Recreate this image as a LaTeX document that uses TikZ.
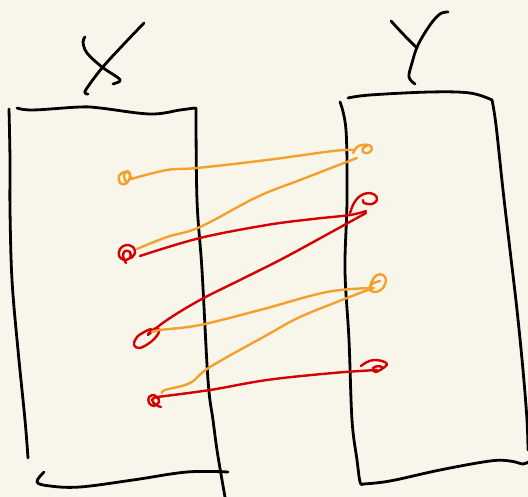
\documentclass[tikz,border=0pt]{standalone}
\begin{document}
\begin{tikzpicture}[x=1pt,y=-1pt,
  ink/.style={line width=2.8pt,line cap=round,line join=round,black},
  ora/.style={line width=2.4pt,line cap=round,line join=round,draw=sketchorange},
  rd/.style={line width=2.4pt,line cap=round,line join=round,draw=sketchred},
  sm/.style={smooth,tension=0.6}]
\definecolor{paper}{HTML}{F8F6EB}
\definecolor{sketchorange}{HTML}{F5A02C}
\definecolor{sketchred}{HTML}{D50000}
\fill[paper] (0,0) rectangle (528,497);
\useasboundingbox (0,0) rectangle (528,497);

% letter X
\draw[ink] plot[sm] coordinates {(85,37) (83,42) (87,53) (102,67) (117,77) (120,81) (113,84)};
\draw[ink] plot[sm] coordinates {(144,23) (123,45) (102,68) (87,88) (85,93) (88,94)};
% letter Y
\draw[ink] plot[sm] coordinates {(391,21) (404,35) (417,48)};
\draw[ink] plot[sm] coordinates {(448,12) (440,14) (430,25) (418,45) (412,63) (409,77) (415,84)};

% set X
\draw[ink] plot[sm] coordinates {(17,108) (33,110) (80,107) (100,108) (150,114) (180,110) (195,108)};
\draw[ink] plot[sm] coordinates {(9,109) (10,160) (10,210) (12,280) (18,350) (25,420) (28,458)};
\draw[ink] plot[sm] coordinates {(196,108) (197,200) (202,270) (208,380) (213,420) (217,450) (222,480) (225,497)};
\draw[ink] plot[sm] coordinates {(44,472) (37,482) (50,486) (80,487) (133,480) (187,472) (228,472)};

% set Y
\draw[ink] plot[sm] coordinates {(348,98) (370,95) (430,92) (470,93) (492,100)};
\draw[ink] plot[sm] coordinates {(340,102) (346,130) (347,200) (345,270) (349,340) (352,420) (357,460) (360,482) (363,484)};
\draw[ink] plot[sm] coordinates {(363,484) (390,481) (440,470) (490,461) (510,461) (523,464) (528,462)};
\draw[ink] plot[sm] coordinates {(492,100) (496,125) (503,190) (510,250) (517,310) (523,370) (527,420) (528,450)};

% endpoints in X
\draw[ora] plot[sm] coordinates {(131,178) (129,173) (124,172) (119,176) (120,183) (125,184) (129,180) (130,174) (127,171) (124,175) (126,182)};
\draw[rd] plot[sm] coordinates {(131,258) (135,253) (133,247) (126,245) (120,249) (119,256) (124,260) (130,258) (130,252) (125,251) (123,256) (126,263)};
\draw[rd] plot[sm] coordinates {(148,334) (156,328) (159,332) (152,341) (140,348) (134,345) (137,337) (146,331) (151,329)};
\draw[rd] plot[sm] coordinates {(157,398) (154,395) (149,397) (149,403) (154,406) (159,402) (157,397) (152,400) (156,405) (161,407)};
% endpoints in Y
\draw[ora] plot[sm] coordinates {(353,153) (357,147) (362,145) (369,145) (372,149) (368,153) (363,152) (363,148) (367,146)};
\draw[rd] plot[sm] coordinates {(350,213) (354,203) (360,196) (368,193) (375,195) (377,200) (372,204) (364,203) (363,200)};
\draw[ora] plot[sm] coordinates {(369,290) (372,281) (377,275) (383,275) (386,280) (383,288) (376,292) (370,290) (372,284) (380,281)};
\draw[rd] plot[sm] coordinates {(361,366) (367,362) (374,360) (382,361) (387,364) (382,369) (375,372) (373,368) (379,366) (383,368)};

% arrows of the relation
\draw[ora] plot[sm] coordinates {(131,179) (167,170) (197,168) (267,160) (333,151) (353,150)};
\draw[ora] plot[sm] coordinates {(357,158) (300,180) (257,197) (200,227) (167,237) (137,249)};
\draw[rd] plot[sm] coordinates {(366,211) (350,215) (313,219) (267,225) (200,238) (140,256)};
\draw[rd] plot[sm] coordinates {(366,213) (317,240) (280,260) (240,280) (200,300) (167,320) (148,335)};
\draw[ora] plot[sm] coordinates {(152,332) (160,330) (200,325) (260,310) (327,292) (374,288)};
\draw[ora] plot[sm] coordinates {(373,288) (347,298) (300,317) (267,335) (210,367) (190,383) (165,390) (162,393)};
\draw[rd] plot[sm] coordinates {(157,397) (210,390) (267,380) (333,373) (377,370)};
\end{tikzpicture}
\end{document}
